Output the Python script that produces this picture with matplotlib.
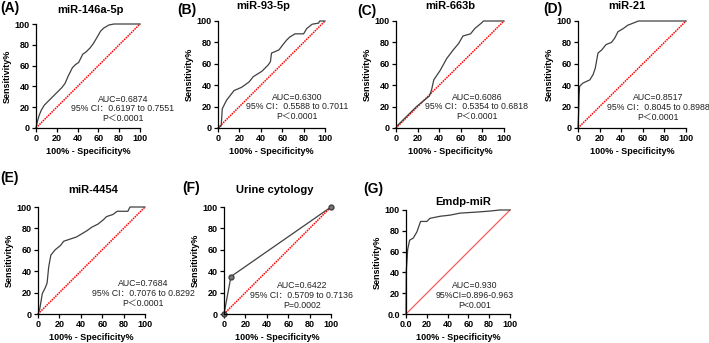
import matplotlib
matplotlib.use('Agg')
import matplotlib.pyplot as plt

plt.rcParams['font.family'] = ['Liberation Sans', 'Noto Sans CJK SC', 'DejaVu Sans']

# ROC curves: (100% - specificity, sensitivity)
a_x = [0, 1, 3, 5, 8, 12, 16, 20, 25, 28, 31, 35, 38, 41, 43, 45, 48, 52, 55, 58, 62, 65, 70, 75, 85, 100]
a_y = [0, 5, 12, 17, 22, 26, 30, 34, 39, 43, 50, 58, 61, 63, 67, 71, 73, 77, 81, 86, 93, 96, 99, 100, 100, 100]

b_x = [0, 3, 4, 8, 15, 22, 29, 33, 41, 47, 49, 50, 57, 60, 64, 67, 72, 80, 83, 88, 94, 95, 100]
b_y = [0, 2, 18, 26, 35, 38, 43, 48, 53, 59, 62, 70, 73, 77, 82, 85, 88, 88, 93, 97, 98, 100, 100]

c_x = [0, 1, 7, 19, 31, 33, 35, 41, 47, 53, 58, 62, 69, 73, 79, 81, 100]
c_y = [0, 2, 8, 20, 30, 36, 45, 54, 65, 73, 79, 86, 88, 93, 98, 100, 100]

d_x = [0, 0.5, 1, 1.5, 4.6, 11, 14, 16, 18.5, 22, 26, 31, 34, 37, 42, 46, 56, 100]
d_y = [0, 12, 30, 39, 42, 45, 50, 56, 70, 73, 78, 80, 84, 90, 93, 96, 100, 100]

e_x = [0, 1.5, 4, 7, 8.5, 10, 12, 16, 21, 24, 30, 36, 41, 46, 50, 56, 61, 64, 70, 74, 84, 86, 100]
e_y = [0, 4, 19, 25, 29, 44, 55, 60, 64, 68, 70, 72, 75, 78, 81, 84, 88, 91, 93, 96, 96, 100, 100]

f_x = [0, 6.5, 100]
f_y = [0, 35, 100]

g_x = [0, 0.3, 1, 1.6, 3.5, 7, 10.5, 14, 20, 23, 33, 42, 52, 68, 81, 90, 100]
g_y = [0, 42, 52, 62, 71, 73, 79, 89, 89, 92, 94, 95, 97, 98, 99, 100, 100]

titles = ['miR-146a-5p', 'miR-93-5p', 'miR-663b', 'miR-21', 'miR-4454', 'Urine cytology', 'Emdp-miR']
tags = ['(A)', '(B)', '(C)', '(D)', '(E)', '(F)', '(G)']
stats = [
    ['AUC=0.6874', '95% CI\uff1a0.6197 to 0.7551', 'P\uff1c0.0001'],
    ['AUC=0.6300', '95% CI\uff1a0.5588 to 0.7011', 'P\uff1c0.0001'],
    ['AUC=0.6086', '95% CI\uff1a0.5354 to 0.6818', 'P\uff1c0.0001'],
    ['AUC=0.8517', '95% CI\uff1a0.8045 to 0.8988', 'P\uff1c0.0001'],
    ['AUC=0.7684', '95% CI\uff1a0.7076 to 0.8292', 'P\uff1c0.0001'],
    ['AUC=0.6422', '95% CI\uff1a0.5709 to 0.7136', 'P=0.0002'],
    ['AUC=0.930', '95%CI=0.896-0.963', 'P<0.001'],
]
curves = [(a_x, a_y), (b_x, b_y), (c_x, c_y), (d_x, d_y), (e_x, e_y), (f_x, f_y), (g_x, g_y)]

W, H = 709, 343
fig = plt.figure(figsize=(W / 100, H / 100), dpi=100)


def fx(x):
    return x / W


def fy(y):
    return 1 - y / H


# axes boxes in pixels: left, right, top, bottom
boxes = [(36, 140, 24, 128), (218, 325, 21, 128), (396, 504, 21, 128), (578, 686, 21, 128),
         (38, 145, 207, 314), (224, 331, 207, 314), (406, 510, 210, 314)]
title_pos = [(90, 10), (263, 6), (450, 6), (627, 6), (93, 190), (275, 190), (463, 202)]
tag_pos = [(0, 8), (177, 10), (357, 11), (543, 9), (0, 178), (182, 188), (363, 189)]
stat_pos = [(123, 99), (297, 97), (477, 97), (658, 98), (143, 284), (302, 286), (475, 286)]

for i in range(7):
    l, r, t, b = boxes[i]
    ax = fig.add_axes([fx(l), fy(b), (r - l) / W, (b - t) / H])
    xs, ys = curves[i]
    if i == 6:
        ax.plot([0, 100], [0, 100], color='#ff5a5a', lw=0.9)
    else:
        ax.plot([0, 100], [0, 100], color='red', lw=1.1, ls=(0, (1, 0.6)))
    if i == 5:
        ax.plot(xs, ys, color='#404040', lw=0.9, marker='o', ms=3.5, mfc='#777777', mec='#404040')
    else:
        ax.plot(xs, ys, color='#404040', lw=0.9)
    ax.set_xlim(0, 100)
    ax.set_ylim(0, 100)
    ax.set_xticks([0, 20, 40, 60, 80, 100])
    ax.set_yticks([0, 20, 40, 60, 80, 100])
    if i == 6:
        ax.set_xticklabels(['0.0', '20', '40', '60', '80', '100'])
        ax.set_yticklabels(['0.0', '20', '40', '60', '80', '100'])
    for s in ['top', 'right']:
        ax.spines[s].set_visible(False)
    for s in ['left', 'bottom']:
        ax.spines[s].set_linewidth(0.9)
    ax.tick_params(length=3, width=0.9, pad=1.5, labelsize=6.5)
    for lab in ax.get_xticklabels() + ax.get_yticklabels():
        lab.set_fontweight('bold')
    ax.set_xlabel('100% - Specificity%', fontsize=6.5, fontweight='bold', labelpad=3)
    ax.set_ylabel('Sensitivity%', fontsize=6.5, fontweight='bold', labelpad=2)
    for line in ax.lines:
        line.set_clip_on(False)

    tx, ty = title_pos[i]
    fig.text(fx(tx), fy(ty), titles[i], ha='center', va='center', fontsize=8, fontweight='bold')
    gx, gy = tag_pos[i]
    fig.text(fx(gx), fy(gy), tags[i], ha='left', va='center', fontsize=10, fontweight='bold')
    sx, sy = stat_pos[i]
    for k, line in enumerate(stats[i]):
        fig.text(fx(sx), fy(sy + k * 9.7), line, ha='center', va='center', fontsize=6.3, color='#222222')

fig.savefig('out.png', dpi=100)
